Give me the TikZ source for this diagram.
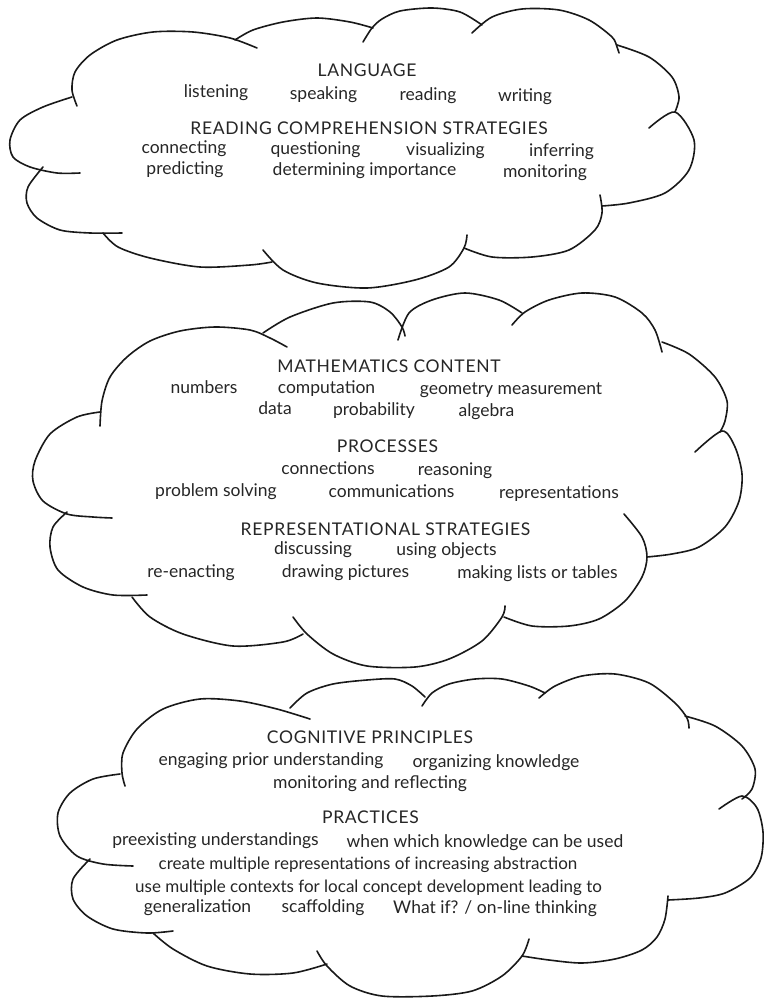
\documentclass[tikz,border=0pt]{standalone}
\usepackage{fontspec}
\setmainfont{Lato}
\begin{document}
\begin{tikzpicture}[x=1pt,y=-1pt,
  cl/.style={line width=1.6pt, line cap=round, line join=round, black!90},
  tx/.style={anchor=base, inner sep=0pt, text=black!85, font=\fontsize{17.5}{20}\selectfont},
  txs/.style={tx, font=\fontsize{17}{20}\selectfont},
  hd/.style={tx, font=\fontsize{17.5}{20}\selectfont\addfontfeatures{LetterSpace=4}}]
\useasboundingbox (0,0) rectangle (764,1000);
\fill[white] (0,0) rectangle (764,1000);
% ---------------- cloud 1 ----------------
\draw[cl] plot[smooth] coordinates {(72,97) (43,107) (20,120) (10,140) (13,157) (30,167) (57,173) (80,173)};
\draw[cl] plot[smooth] coordinates {(43,167) (28,187) (27,203) (37,218) (60,230) (90,233) (122,233)};
\draw[cl] plot[smooth] coordinates {(103,233) (118,247) (150,258) (200,267) (250,265) (272,262)};
\draw[cl] plot[smooth] coordinates {(263,250) (283,270) (317,283) (367,288) (415,280) (449,267) (464,248) (467,235)};
\draw[cl] plot[smooth] coordinates {(464,248) (492,257) (532,257) (569,250) (595,230) (602,213) (600,195)};
\draw[cl] plot[smooth] coordinates {(602,206) (629,203) (665,193) (689,170) (694,140) (675,112) (649,128)};
\draw[cl] plot[smooth] coordinates {(617,45) (649,57) (672,77) (679,97) (675,112)};
\draw[cl] plot[smooth] coordinates {(472,33) (492,17) (522,9) (559,10) (589,20) (612,37) (617,47) (619,53)};
\draw[cl] plot[smooth] coordinates {(363,42) (372,28) (382,19) (400,11) (432,8) (460,12) (482,25)};
\draw[cl] plot[smooth] coordinates {(235,40) (253,30) (283,22) (317,18) (350,22) (373,28)};
\draw[cl] plot[smooth] coordinates {(77,106) (72,90) (75,72) (90,55) (117,40) (153,32) (193,32) (230,38) (257,48)};
% ---------------- cloud 2 ----------------
\draw[cl] plot[smooth] coordinates {(100,412) (77,417) (50,434) (35,461) (33,481) (43,501) (67,514) (93,517) (112,518)};
\draw[cl] plot[smooth] coordinates {(67,512) (53,527) (50,547) (58,570) (83,587) (113,595) (147,595)};
\draw[cl] plot[smooth] coordinates {(132,597) (150,617) (183,634) (233,646) (283,642) (303,634)};
\draw[cl] plot[smooth] coordinates {(293,617) (307,634) (333,654) (367,666) (415,667) (449,659) (482,641) (502,617) (505,606)};
\draw[cl] plot[smooth] coordinates {(504,617) (532,626) (569,626) (599,619) (625,601) (642,577) (647,557) (642,537) (624,514)};
\draw[cl] plot[smooth] coordinates {(647,557) (672,554) (699,547) (725,527) (739,501) (742,474) (735,447) (722,431) (695,452)};
\draw[cl] plot[smooth] coordinates {(662,342) (689,354) (715,377) (727,401) (725,421) (720,432)};
\draw[cl] plot[smooth] coordinates {(512,325) (525,312) (549,300) (582,293) (615,297) (642,313) (655,330) (662,352)};
\draw[cl] plot[smooth] coordinates {(398,340) (409,313) (432,300) (465,293) (499,300) (522,313)};
\draw[cl] plot[smooth] coordinates {(263,333) (290,317) (333,303) (370,302) (390,312) (402,327) (405,336)};
\draw[cl] plot[smooth] coordinates {(100,426) (102,401) (110,377) (127,357) (150,341) (180,331) (215,327) (250,330) (270,338) (287,347)};
% ---------------- cloud 3 ----------------
\draw[cl] plot[smooth] coordinates {(120,774) (93,779) (70,793) (58,813) (60,836) (77,856) (103,864) (133,866)};
\draw[cl] plot[smooth] coordinates {(90,859) (73,879) (73,899) (87,916) (113,929) (147,933) (173,931)};
\draw[cl] plot[smooth] coordinates {(153,933) (173,949) (207,966) (250,974) (293,973) (327,964)};
\draw[cl] plot[smooth] coordinates {(317,951) (327,966) (350,986) (382,996) (432,996) (472,991) (502,976) (522,956) (529,939)};
\draw[cl] plot[smooth] coordinates {(668,896) (665,919) (657,937) (642,950) (615,959) (582,963) (549,960) (522,956)};
\draw[cl] plot[smooth] coordinates {(719,809) (742,796) (757,808) (763,832) (761,858) (750,878) (725,893) (699,898) (668,900)};
\draw[cl] plot[smooth] coordinates {(685,716) (715,726) (742,746) (755,769) (752,789) (742,799)};
\draw[cl] plot[smooth] coordinates {(539,698) (555,686) (582,676) (615,674) (649,683) (675,703) (687,718) (689,728)};
\draw[cl] plot[smooth] coordinates {(422,706) (432,693) (449,684) (475,679) (502,679) (529,686) (545,693)};
\draw[cl] plot[smooth] coordinates {(290,708) (307,693) (333,684) (367,680) (395,679) (412,686) (425,697)};
\draw[cl] plot[smooth] coordinates {(125,786) (122,773) (123,753) (137,729) (163,709) (200,699) (240,701) (277,709) (310,719)};
% ---------------- text cloud 1 ----------------
\node[hd] (lang) at (367,77) {LANGUAGE};
\node[tx] (listen) at (216,98) {listening};
\node[tx] (speak) at (323.5,100) {speaking};
\node[tx] (read) at (428,101) {reading};
\node[tx] (write) at (525,102) {writing};
\node[hd] (rcs) at (369,135) {READING COMPREHENSION STRATEGIES};
\node[tx] (conn) at (184,154) {connecting};
\node[tx] (quest) at (315.5,155) {questioning};
\node[tx] (visual) at (445.5,156) {visualizing};
\node[tx] (infer) at (561.5,157) {inferring};
\node[tx] (pred) at (185,175) {predicting};
\node[tx] (determ) at (364.5,176) {determining importance};
\node[tx] (monit) at (545,178) {monitoring};
% ---------------- text cloud 2 ----------------
\node[hd] (math) at (389,372) {MATHEMATICS CONTENT};
\node[tx] (numb) at (204,393) {numbers};
\node[tx] (comput) at (326.5,393) {computation};
\node[tx] (geom) at (511,394) {geometry measurement};
\node[tx] (data) at (275,414) {data};
\node[tx] (prob) at (374,415) {probability};
\node[tx] (alg) at (486.5,416) {algebra};
\node[hd] (proc) at (387.5,452) {PROCESSES};
\node[tx] (connex) at (328,474) {connections};
\node[tx] (reas) at (455,475) {reasoning};
\node[tx] (probsol) at (216,496) {problem solving};
\node[tx] (comm) at (391.5,497) {communications};
\node[tx] (repr) at (559,498) {representations};
\node[hd] (rstrat) at (385.5,535) {REPRESENTATIONAL STRATEGIES};
\node[tx] (disc) at (313,554) {discussing};
\node[tx] (objs) at (446.5,555) {using objects};
\node[tx] (reen) at (191,577) {re-enacting};
\node[tx] (draw) at (345.5,577) {drawing pictures};
\node[tx] (lists) at (537.5,578) {making lists or tables};
% ---------------- text cloud 3 ----------------
\node[hd] (cog) at (370,743) {COGNITIVE PRINCIPLES};
\node[tx] (engage) at (271,765) {engaging prior understanding};
\node[tx] (organ) at (496,767) {organizing knowledge};
\node[tx] (monref) at (370,788) {monitoring and reflecting};
\node[hd] (pract) at (370.5,823) {PRACTICES};
\node[tx] (preex) at (215.5,845) {preexisting understandings};
\node[tx] (when) at (485,847) {when which knowledge can be used};
\node[txs] (create) at (368,869) {create multiple representations of increasing abstraction};
\node[txs] (usemult) at (368.5,892) {use multiple contexts for local concept development leading to};
\node[tx] (gener) at (197.5,912) {generalization};
\node[tx] (scaff) at (323,912) {scaffolding};
\node[tx] (whatif) at (495,913) {What if? / on-line thinking};
\end{tikzpicture}
\end{document}
